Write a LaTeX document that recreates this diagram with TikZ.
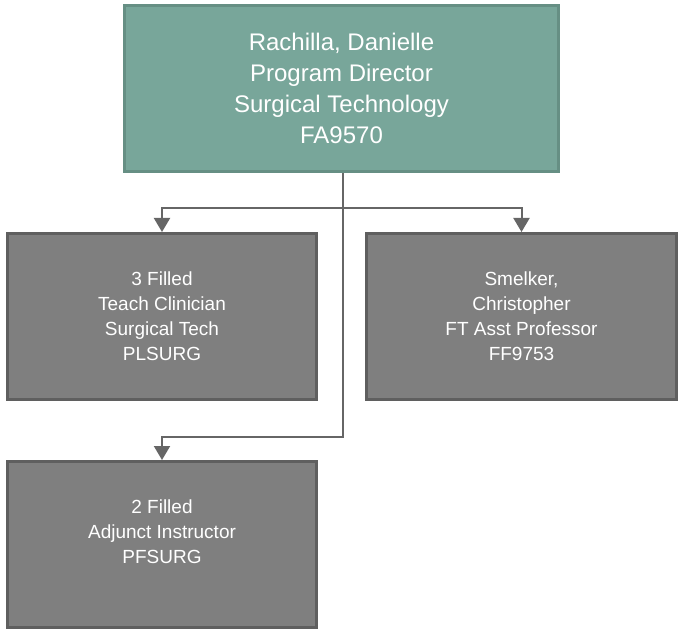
\documentclass[tikz,border=0pt]{standalone}
\usepackage{fontspec}
\setmainfont{Liberation Sans}
\usetikzlibrary{arrows.meta,calc}
\definecolor{teal1}{HTML}{78A69A}
\definecolor{tealb}{HTML}{668F84}
\definecolor{gray1}{HTML}{7F7F7F}
\definecolor{grayb}{HTML}{5F5F5F}
\definecolor{connc}{HTML}{666666}
\begin{document}
\begin{tikzpicture}[x=1pt,y=-1pt,
  topbox/.style={draw=tealb,fill=teal1,line width=3pt,minimum width=434pt,minimum height=166pt,inner sep=0pt,align=center,text=white,font=\fontsize{24}{31}\selectfont},
  subbox/.style={draw=grayb,fill=gray1,line width=3pt,minimum width=309pt,minimum height=166pt,inner sep=0pt,align=center,text=white,font=\fontsize{19}{25}\selectfont},
  conn/.style={draw=connc,line width=2pt,-{Triangle[width=16pt,length=14pt]}}]
\useasboundingbox (0,0) rectangle (680,631);
\node[topbox] (top) at (341.5,88.5) {Rachilla, Danielle\\Program Director\\Surgical Technology\\FA9570};
\node[subbox] (left) at (162,316.5) {3 Filled\\Teach Clinician\\Surgical Tech\\PLSURG};
\node[subbox,minimum width=310pt] (right) at (521.5,316.5) {Smelker,\\ Christopher\\FT Asst Professor\\FF9753};
\node[subbox] (bottom) at (162,544.5) {2 Filled\\Adjunct Instructor\\PFSURG\\\mbox{}};
\coordinate (j1) at (343,208);
\coordinate (j2) at (343,437);
\draw[conn] (343,173) -- (j1) -| (left.north);
\draw[conn] (j1) -| (right.north);
\draw[conn] (j1) -- (j2) -| (bottom.north);
\end{tikzpicture}
\end{document}
